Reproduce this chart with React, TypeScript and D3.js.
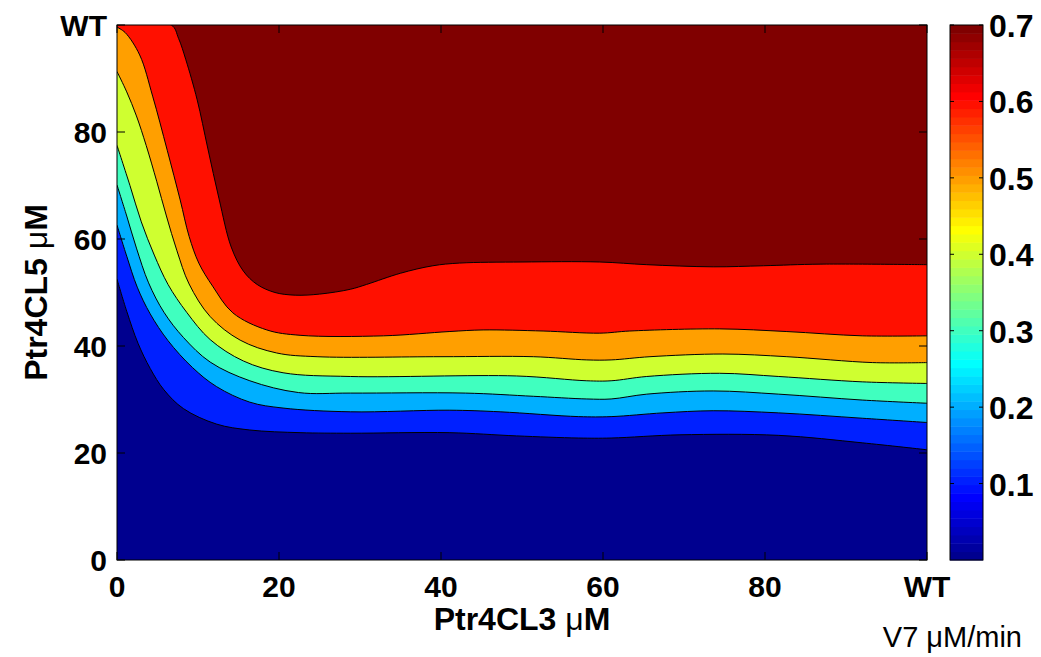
import React from "react";
import * as d3 from "d3";

// ---------- data ----------
const X_TICKS = [0, 20, 40, 60, 80, 100];
const X_TICK_LABELS = ["0", "20", "40", "60", "80", "WT"];
const Y_TICKS = [0, 20, 40, 60, 80, 100];
const Y_TICK_LABELS = ["0", "20", "40", "60", "80", "WT"];
const CBAR_TICKS = [0.1, 0.2, 0.3, 0.4, 0.5, 0.6, 0.7];
const CBAR_DOMAIN = [0, 0.7];
const LEVELS = [0.1, 0.2, 0.3, 0.4, 0.5, 0.6, 0.7];

// contour lines: [Ptr4CL3, Ptr4CL5] points along each iso-level of V7
const C010 = [[0,52.5],[1.2,46.5],[2.6,40.5],[4.1,35.8],[5.8,31.8],[8.2,28.3],[12.3,25.4],[16.4,24.3],[22.6,23.8],[28.8,23.7],[41,23.8],[49.3,23.2],[57,22.8],[61,22.8],[69.5,23.4],[81.7,23.3],[92,21.9],[100,20.6]];
const C020 = [[0,62.6],[1.2,56.8],[2.5,51],[4.1,46],[6.3,41],[9.3,36],[12.3,32.4],[16.4,29.5],[20.5,28.4],[28.8,27.7],[41,28],[47.3,27.7],[57,26.8],[61,26.8],[67.4,27.5],[73.6,27.9],[81.7,27.5],[92,26.5],[100,25.7]];
const C030 = [[0,70.1],[1.2,64.3],[2.4,58.3],[3.9,51.8],[5.8,46.3],[8.2,41.6],[11.5,37],[16.4,33.5],[22.4,31.3],[28.8,31.2],[43,31.2],[51.4,30.6],[58,30.1],[61,30.1],[65.4,31],[73.6,31.6],[81.7,31],[92,29.9],[100,29.3]];
const C040 = [[0,77.5],[1.6,70],[3,63.2],[4.6,57],[6.3,51.5],[8.6,46.3],[11.5,41.2],[15.6,37.2],[20.5,35],[28.8,34.3],[49.3,34.4],[58,33.5],[61,33.5],[65.4,34.3],[74.4,34.9],[81.7,34.3],[92,33.3],[100,33]];
const C050 = [[0,91.3],[1.2,87.5],[2.4,83],[3.6,77.5],[4.9,70.8],[6.1,64.3],[7.4,57.8],[8.9,51.6],[11.5,45.5],[15.2,41.1],[19.7,38.7],[24.7,38],[40,38],[51.4,38],[58,37.4],[61,37.4],[65.8,38],[74.8,38.5],[82.7,38],[93.3,36.9],[100,36.9]];
const C060 = [[0,99.6],[1,98.6],[2.8,94.4],[4.4,86.7],[6.2,76.6],[7.8,67.3],[8.9,60.5],[10.1,55.5],[11.8,51.2],[14.3,46.2],[18.5,43],[22.6,42],[32.9,41.9],[41,42.7],[45.2,43],[52.6,42.8],[59.6,42.4],[63.3,42.8],[74.4,43.2],[82.7,42.7],[92,41.9],[100,41.9]];
const C070 = [[0,100],[6.7,100],[7.6,97.5],[8.5,93.5],[9.9,86],[11.2,77],[12.6,67.5],[14.1,58.5],[15.6,54],[17.3,51.5],[19.5,50],[22,49.5],[25,49.7],[28.8,50.6],[30.8,51.5],[35,53.6],[39,55],[42.3,55.5],[50,55.7],[59.6,55.7],[65.4,55.2],[73.6,54.8],[79.8,55],[86.8,55.3],[100,55.2]];
const CONTOURS = [C010, C020, C030, C040, C050, C060, C070];

// ---------- layout ----------
const W = 1041, H = 657;
const PL = 117, PR = 927, PT = 25, PB = 560;
const CB_L = 950, CB_R = 983;
const FONT = "'Liberation Sans', Arial, Helvetica, sans-serif";

// MATLAB jet(64), entry i (0-based)
function jet64(i: number): string {
  const k = i + 1;
  let r = 0, g = 0, b = 0;
  if (k <= 8) { b = 0.5 + k * 0.0625; }
  else if (k <= 24) { b = 1; g = (k - 8) * 0.0625; }
  else if (k <= 40) { r = (k - 24) * 0.0625; g = 1; b = 1 - (k - 24) * 0.0625; }
  else if (k <= 56) { r = 1; g = 1 - (k - 40) * 0.0625; }
  else { r = 1 - (k - 56) * 0.0625; }
  return d3.rgb(Math.round(r * 255), Math.round(g * 255), Math.round(b * 255)).formatHex();
}

export default function App() {
  const xs = d3.scaleLinear().domain([0, 100]).range([PL, PR]);
  const ys = d3.scaleLinear().domain([0, 100]).range([PB, PT]);
  const cs = d3.scaleLinear().domain(CBAR_DOMAIN).range([PB, PT]);

  const nb = LEVELS.length; // 7 lines -> 8 bands
  const bandColor = (k: number) => jet64(Math.round((k / nb) * 63));

  const curve = d3.curveCatmullRom.alpha(0.5);
  const area = d3
    .area<number[]>()
    .x((d) => xs(d[0]))
    .y0(ys(0))
    .y1((d) => ys(d[1]))
    .curve(curve);
  const line = d3
    .line<number[]>()
    .x((d) => xs(d[0]))
    .y((d) => ys(d[1]))
    .curve(curve);

  const cbSteps = d3.range(64);
  const stepH = (PB - PT) / 64;
  const tickLen = 8;

  return (
    <svg width={W} height={H} style={{ position: "absolute", left: 0, top: 0, background: "#fff" }}>
      <defs>
        <clipPath id="plotclip">
          <rect x={PL} y={PT} width={PR - PL} height={PB - PT} />
        </clipPath>
      </defs>
      <g clipPath="url(#plotclip)">
        <rect x={PL} y={PT} width={PR - PL} height={PB - PT} fill={bandColor(nb)} />
        {CONTOURS.slice().reverse().map((c, i) => {
          const k = nb - 1 - i; // band below line k
          return <path key={"a" + i} d={area(c) || ""} fill={bandColor(k)} />;
        })}
        {CONTOURS.map((c, i) => (
          <path key={"l" + i} d={line(c) || ""} fill="none" stroke="#000" strokeWidth={1} />
        ))}
      </g>
      {/* axes box */}
      <rect x={PL} y={PT} width={PR - PL} height={PB - PT} fill="none" stroke="#000" strokeWidth={1} />
      {X_TICKS.map((t, i) => (
        <g key={"xt" + i}>
          <line x1={xs(t)} x2={xs(t)} y1={PB} y2={PB - tickLen} stroke="#000" />
          <line x1={xs(t)} x2={xs(t)} y1={PT} y2={PT + tickLen} stroke="#000" />
          <text x={xs(t)} y={597} textAnchor="middle" fontFamily={FONT} fontWeight="bold" fontSize={30}>
            {X_TICK_LABELS[i]}
          </text>
        </g>
      ))}
      {Y_TICKS.map((t, i) => (
        <g key={"yt" + i}>
          <line x1={PL} x2={PL + tickLen} y1={ys(t)} y2={ys(t)} stroke="#000" />
          <line x1={PR} x2={PR - tickLen} y1={ys(t)} y2={ys(t)} stroke="#000" />
          <text x={107} y={ys(t) + 11} textAnchor="end" fontFamily={FONT} fontWeight="bold" fontSize={30}>
            {Y_TICK_LABELS[i]}
          </text>
        </g>
      ))}
      <text x={(PL + PR) / 2} y={630} textAnchor="middle" fontFamily={FONT} fontWeight="bold" fontSize={32}>
        Ptr4CL3 <tspan fontWeight="normal">μ</tspan>M
      </text>
      <text
        transform={`translate(47, ${(PT + PB) / 2}) rotate(-90)`}
        textAnchor="middle"
        fontFamily={FONT}
        fontWeight="bold"
        fontSize={32}
      >
        Ptr4CL5 <tspan fontWeight="normal">μ</tspan>M
      </text>

      {/* colorbar */}
      {cbSteps.map((i) => (
        <rect key={"cb" + i} x={CB_L} y={PB - (i + 1) * stepH} width={CB_R - CB_L} height={stepH + 0.5} fill={jet64(i)} />
      ))}
      <rect x={CB_L} y={PT} width={CB_R - CB_L} height={PB - PT} fill="none" stroke="#000" strokeWidth={1} />
      {CBAR_TICKS.map((t, i) => (
        <g key={"ct" + i}>
          <line x1={CB_L} x2={CB_L + 4} y1={cs(t)} y2={cs(t)} stroke="#000" />
          <line x1={CB_R} x2={CB_R - 4} y1={cs(t)} y2={cs(t)} stroke="#000" />
          <text x={989} y={cs(t) + 12} fontFamily={FONT} fontWeight="bold" fontSize={32}>
            {d3.format(".1f")(t)}
          </text>
        </g>
      ))}
      <text x={1022} y={647} textAnchor="end" fontFamily={FONT} fontSize={29}>
        V7 μM/min
      </text>
    </svg>
  );
}
